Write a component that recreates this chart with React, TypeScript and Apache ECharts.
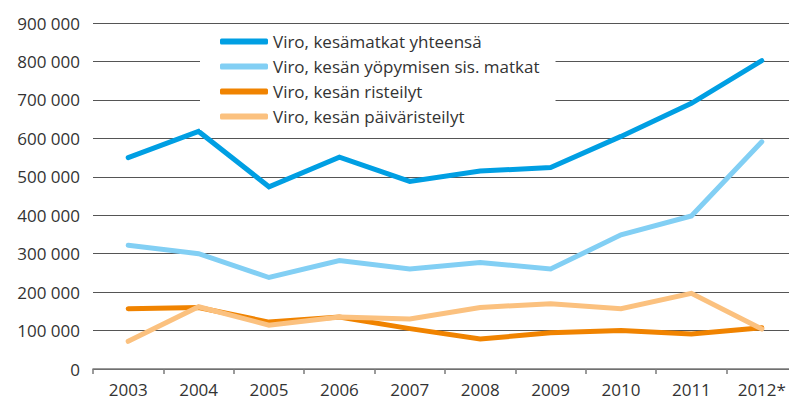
import React, { useEffect, useRef } from "react";
import * as echarts from "echarts";

const years = ["2003", "2004", "2005", "2006", "2007", "2008", "2009", "2010", "2011", "2012*"];
const seriesNames = [
  "Viro, kesämatkat yhteensä",
  "Viro, kesän yöpymisen sis. matkat",
  "Viro, kesän risteilyt",
  "Viro, kesän päiväristeilyt",
];
const totalTrips = [550000, 618000, 474000, 551000, 488000, 515000, 524000, 605000, 691000, 802000];
const overnightTrips = [322000, 300000, 238000, 282000, 260000, 277000, 260000, 349000, 398000, 591000];
const cruises = [157000, 160000, 122000, 135000, 105000, 78000, 94000, 100000, 91000, 107000];
const dayCruises = [72000, 162000, 114000, 135000, 130000, 160000, 170000, 157000, 197000, 104000];
const colors = ["#009fe3", "#82cff4", "#f08300", "#fbc17f"];

const fontFamily = "'Open Sans', 'Noto Sans', sans-serif";

export default function App() {
  const ref = useRef<HTMLDivElement>(null);

  useEffect(() => {
    if (!ref.current) return;
    const chart = echarts.init(ref.current, null, { renderer: "svg" });
    const values = [totalTrips, overnightTrips, cruises, dayCruises];
    chart.setOption({
      animation: false,
      color: colors,
      grid: { left: 93, top: 23, width: 710, height: 349 },
      legend: {
        orient: "vertical",
        left: 200,
        top: 28,
        backgroundColor: "#ffffff",
        padding: [4, 16, 4, 20],
        itemGap: 6,
        itemWidth: 48,
        itemHeight: 6,
        icon: "roundRect",
        data: seriesNames,
        textStyle: { fontFamily, fontSize: 17, color: "#333333", lineHeight: 19, padding: [0, 0, 0, 0] },
      },
      xAxis: {
        type: "category",
        data: years,
        boundaryGap: true,
        axisLine: { lineStyle: { color: "#7a7a7a", width: 1.5 } },
        axisTick: { show: true, length: 5, lineStyle: { color: "#7a7a7a", width: 1.5 } },
        axisLabel: { fontFamily, fontSize: 17, color: "#333333", margin: 12 },
      },
      yAxis: {
        type: "value",
        min: 0,
        max: 900000,
        interval: 100000,
        axisLine: { show: false },
        axisTick: { show: false },
        splitLine: { lineStyle: { color: "#555555", width: 1 } },
        axisLabel: {
          fontFamily,
          fontSize: 17,
          color: "#333333",
          margin: 13,
          formatter: (v: number) => String(v).replace(/\B(?=(\d{3})+(?!\d))/g, " "),
        },
      },
      series: seriesNames.map((name, i) => ({
        name,
        type: "line",
        data: values[i],
        symbol: "none",
        showSymbol: false,
        lineStyle: { width: 5, color: colors[i], cap: "round", join: "miter" },
        itemStyle: { color: colors[i] },
      })),
    });
    return () => chart.dispose();
  }, []);

  return <div ref={ref} style={{ width: 797, height: 398, marginLeft: -8, marginTop: -8 }} />;
}
